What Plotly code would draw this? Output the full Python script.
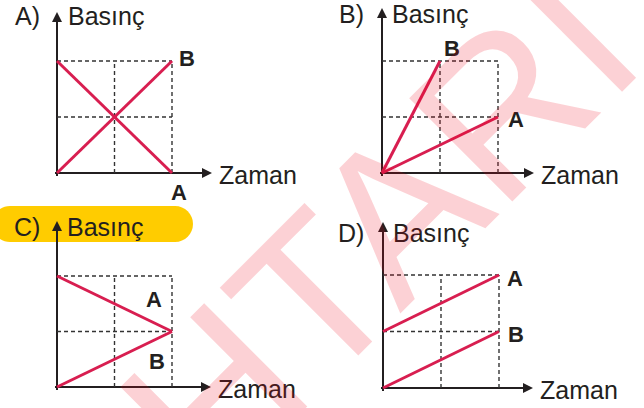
import plotly.graph_objects as go

# ---------------- data ----------------
panel_letters = ["A)", "B)", "C)", "D)"]
y_title = "Basınç"
x_title = "Zaman"
series_names = ["A", "B"]
grid_ticks = [1, 2]

a_time_A = [0, 2]
a_pres_A = [2, 0]
a_time_B = [0, 2]
a_pres_B = [0, 2]

b_time_A = [0, 2]
b_pres_A = [0, 1]
b_time_B = [0, 1]
b_pres_B = [0, 2]

c_time_A = [0, 2]
c_pres_A = [2, 1]
c_time_B = [0, 2]
c_pres_B = [0, 1]

d_time_A = [0, 2]
d_pres_A = [1, 2]
d_time_B = [0, 2]
d_pres_B = [0, 1]

watermark = "ANAHTARI"

# ---------------- styling / layout ----------------
W, H = 644, 408
INK = "#231f20"
RED = "#d81e50"
YELLOW = "#ffcc00"
FONT = "Liberation Sans, Arial, sans-serif"
PAD = 2.5


def px(x):
    return x / W


def py(y):
    return 1 - y / H


# origin (px), unit sizes (px), arrow tips (px), label geometry
geom = [
    dict(ox=57, oy=173, ux=57.5, uy=56, tipx=212, tipy=12, lab_y=16, let_r=42, tit_l=66),
    dict(ox=382, oy=173, ux=58, uy=56, tipx=534, tipy=8, lab_y=14, let_r=366, tit_l=390),
    dict(ox=57, oy=387, ux=57.5, uy=55.5, tipx=211, tipy=221, lab_y=227, let_r=42, tit_l=65),
    dict(ox=383, oy=388, ux=58, uy=56.5, tipx=533, tipy=222, lab_y=233, let_r=366, tit_l=391),
]

data_sets = [
    [(a_time_A, a_pres_A), (a_time_B, a_pres_B)],
    [(b_time_A, b_pres_A), (b_time_B, b_pres_B)],
    [(c_time_A, c_pres_A), (c_time_B, c_pres_B)],
    [(d_time_A, d_pres_A), (d_time_B, d_pres_B)],
]

# label offsets (px) from each series' end point
label_shift = [
    [(7, -19), (15, 2)],
    [(18, -2), (12, 13)],
    [(-18, 32), (-15, -30)],
    [(16, -3), (17, -3)],
]

fig = go.Figure()
layout = dict(
    width=W, height=H,
    margin=dict(l=0, r=0, t=0, b=0),
    paper_bgcolor="white", plot_bgcolor="rgba(0,0,0,0)",
    showlegend=False,
    font=dict(family=FONT, color=INK),
)
annotations = []
shapes = []

# yellow highlight pill behind "C) Basınç"
x0, x1, y0, y1 = -8, 193, 206, 242
r = (y1 - y0) / 2
k = 0.5523 * r


def P(x, y):
    return f"{px(x):.5f},{py(y):.5f}"


path = (
    f"M {P(x0 + r, y0)} L {P(x1 - r, y0)} "
    f"C {P(x1 - r + k, y0)} {P(x1, y0 + r - k)} {P(x1, y0 + r)} "
    f"C {P(x1, y0 + r + k)} {P(x1 - r + k, y1)} {P(x1 - r, y1)} "
    f"L {P(x0 + r, y1)} "
    f"C {P(x0 + r - k, y1)} {P(x0, y0 + r + k)} {P(x0, y0 + r)} "
    f"C {P(x0, y0 + r - k)} {P(x0 + r - k, y0)} {P(x0 + r, y0)} Z"
)
shapes.append(dict(type="path", path=path, xref="paper", yref="paper",
                   fillcolor=YELLOW, line=dict(width=0), layer="below"))

for i, g in enumerate(geom):
    sfx = "" if i == 0 else str(i + 1)
    xa, ya = "x" + sfx, "y" + sfx
    xmax = (g["tipx"] - 3 - g["ox"]) / g["ux"]
    ymax = (g["oy"] - g["tipy"] - 3) / g["uy"]
    layout["xaxis" + sfx] = dict(
        domain=[px(g["ox"] - PAD), px(g["tipx"] - 3)],
        range=[-PAD / g["ux"], xmax], anchor=ya,
        showgrid=False, showticklabels=False, ticks="", showline=False,
        zeroline=True, zerolinecolor=INK, zerolinewidth=2, fixedrange=True,
    )
    layout["yaxis" + sfx] = dict(
        domain=[py(g["oy"] + PAD), py(g["tipy"] + 3)],
        range=[-PAD / g["uy"], ymax], anchor=xa,
        showgrid=False, showticklabels=False, ticks="", showline=False,
        zeroline=True, zerolinecolor=INK, zerolinewidth=2, fixedrange=True,
    )

    # dashed helper grid
    top = max(grid_ticks)
    gx, gy = [], []
    for t in grid_ticks:
        gx += [t, t, None]
        gy += [0, top, None]
        gx += [0, top, None]
        gy += [t, t, None]
    fig.add_trace(go.Scatter(x=gx, y=gy, mode="lines", xaxis=xa, yaxis=ya,
                             line=dict(color="#333333", width=1.4, dash="4px,3px"),
                             hoverinfo="skip"))

    # series lines + labels
    for j, (tx, pv) in enumerate(data_sets[i]):
        fig.add_trace(go.Scatter(x=tx, y=pv, mode="lines", xaxis=xa, yaxis=ya,
                                 line=dict(color=RED, width=3), name=series_names[j]))
        dx, dy = label_shift[i][j]
        annotations.append(dict(
            x=tx[-1], y=pv[-1], xref=xa, yref=ya, text=f"<b>{series_names[j]}</b>",
            showarrow=False, xshift=dx, yshift=dy, xanchor="center", yanchor="middle",
            font=dict(size=22, family=FONT, color=INK)))

    # axis arrowheads
    annotations.append(dict(x=0, y=py(g["tipy"]), xref=xa, yref="paper", text="",
                            showarrow=True, ax=0, ay=14, arrowhead=2, arrowsize=1.0,
                            arrowwidth=2, arrowcolor=INK, standoff=0))
    annotations.append(dict(x=px(g["tipx"]), y=0, xref="paper", yref=ya, text="",
                            showarrow=True, ax=-14, ay=0, arrowhead=2, arrowsize=1.0,
                            arrowwidth=2, arrowcolor=INK, standoff=0))

    # panel letter, axis titles
    annotations.append(dict(x=px(g["let_r"]), y=py(g["lab_y"]), xref="paper", yref="paper",
                            text=panel_letters[i], showarrow=False, xanchor="right",
                            yanchor="middle", font=dict(size=25, family=FONT, color=INK)))
    annotations.append(dict(x=px(g["tit_l"]), y=py(g["lab_y"]), xref="paper", yref="paper",
                            text=y_title, showarrow=False, xanchor="left",
                            yanchor="middle", font=dict(size=25, family=FONT, color=INK)))
    annotations.append(dict(x=px(g["tipx"] + 5), y=0, xref="paper", yref=ya,
                            text=x_title, showarrow=False, xanchor="left", yshift=-2,
                            yanchor="middle", font=dict(size=25, family=FONT, color=INK)))

# watermark
annotations.append(dict(x=px(224), y=py(385), xref="paper", yref="paper", text=watermark,
                        showarrow=False, textangle=-45, xanchor="center", yanchor="middle",
                        font=dict(size=212, family=FONT, color="rgba(240,0,20,0.18)")))

layout["annotations"] = annotations
layout["shapes"] = shapes
fig.update_layout(**layout)
fig.write_html("out.html", config={"displayModeBar": False, "staticPlot": True},
               post_script="document.body.style.margin='0';document.body.style.overflow='hidden';")
